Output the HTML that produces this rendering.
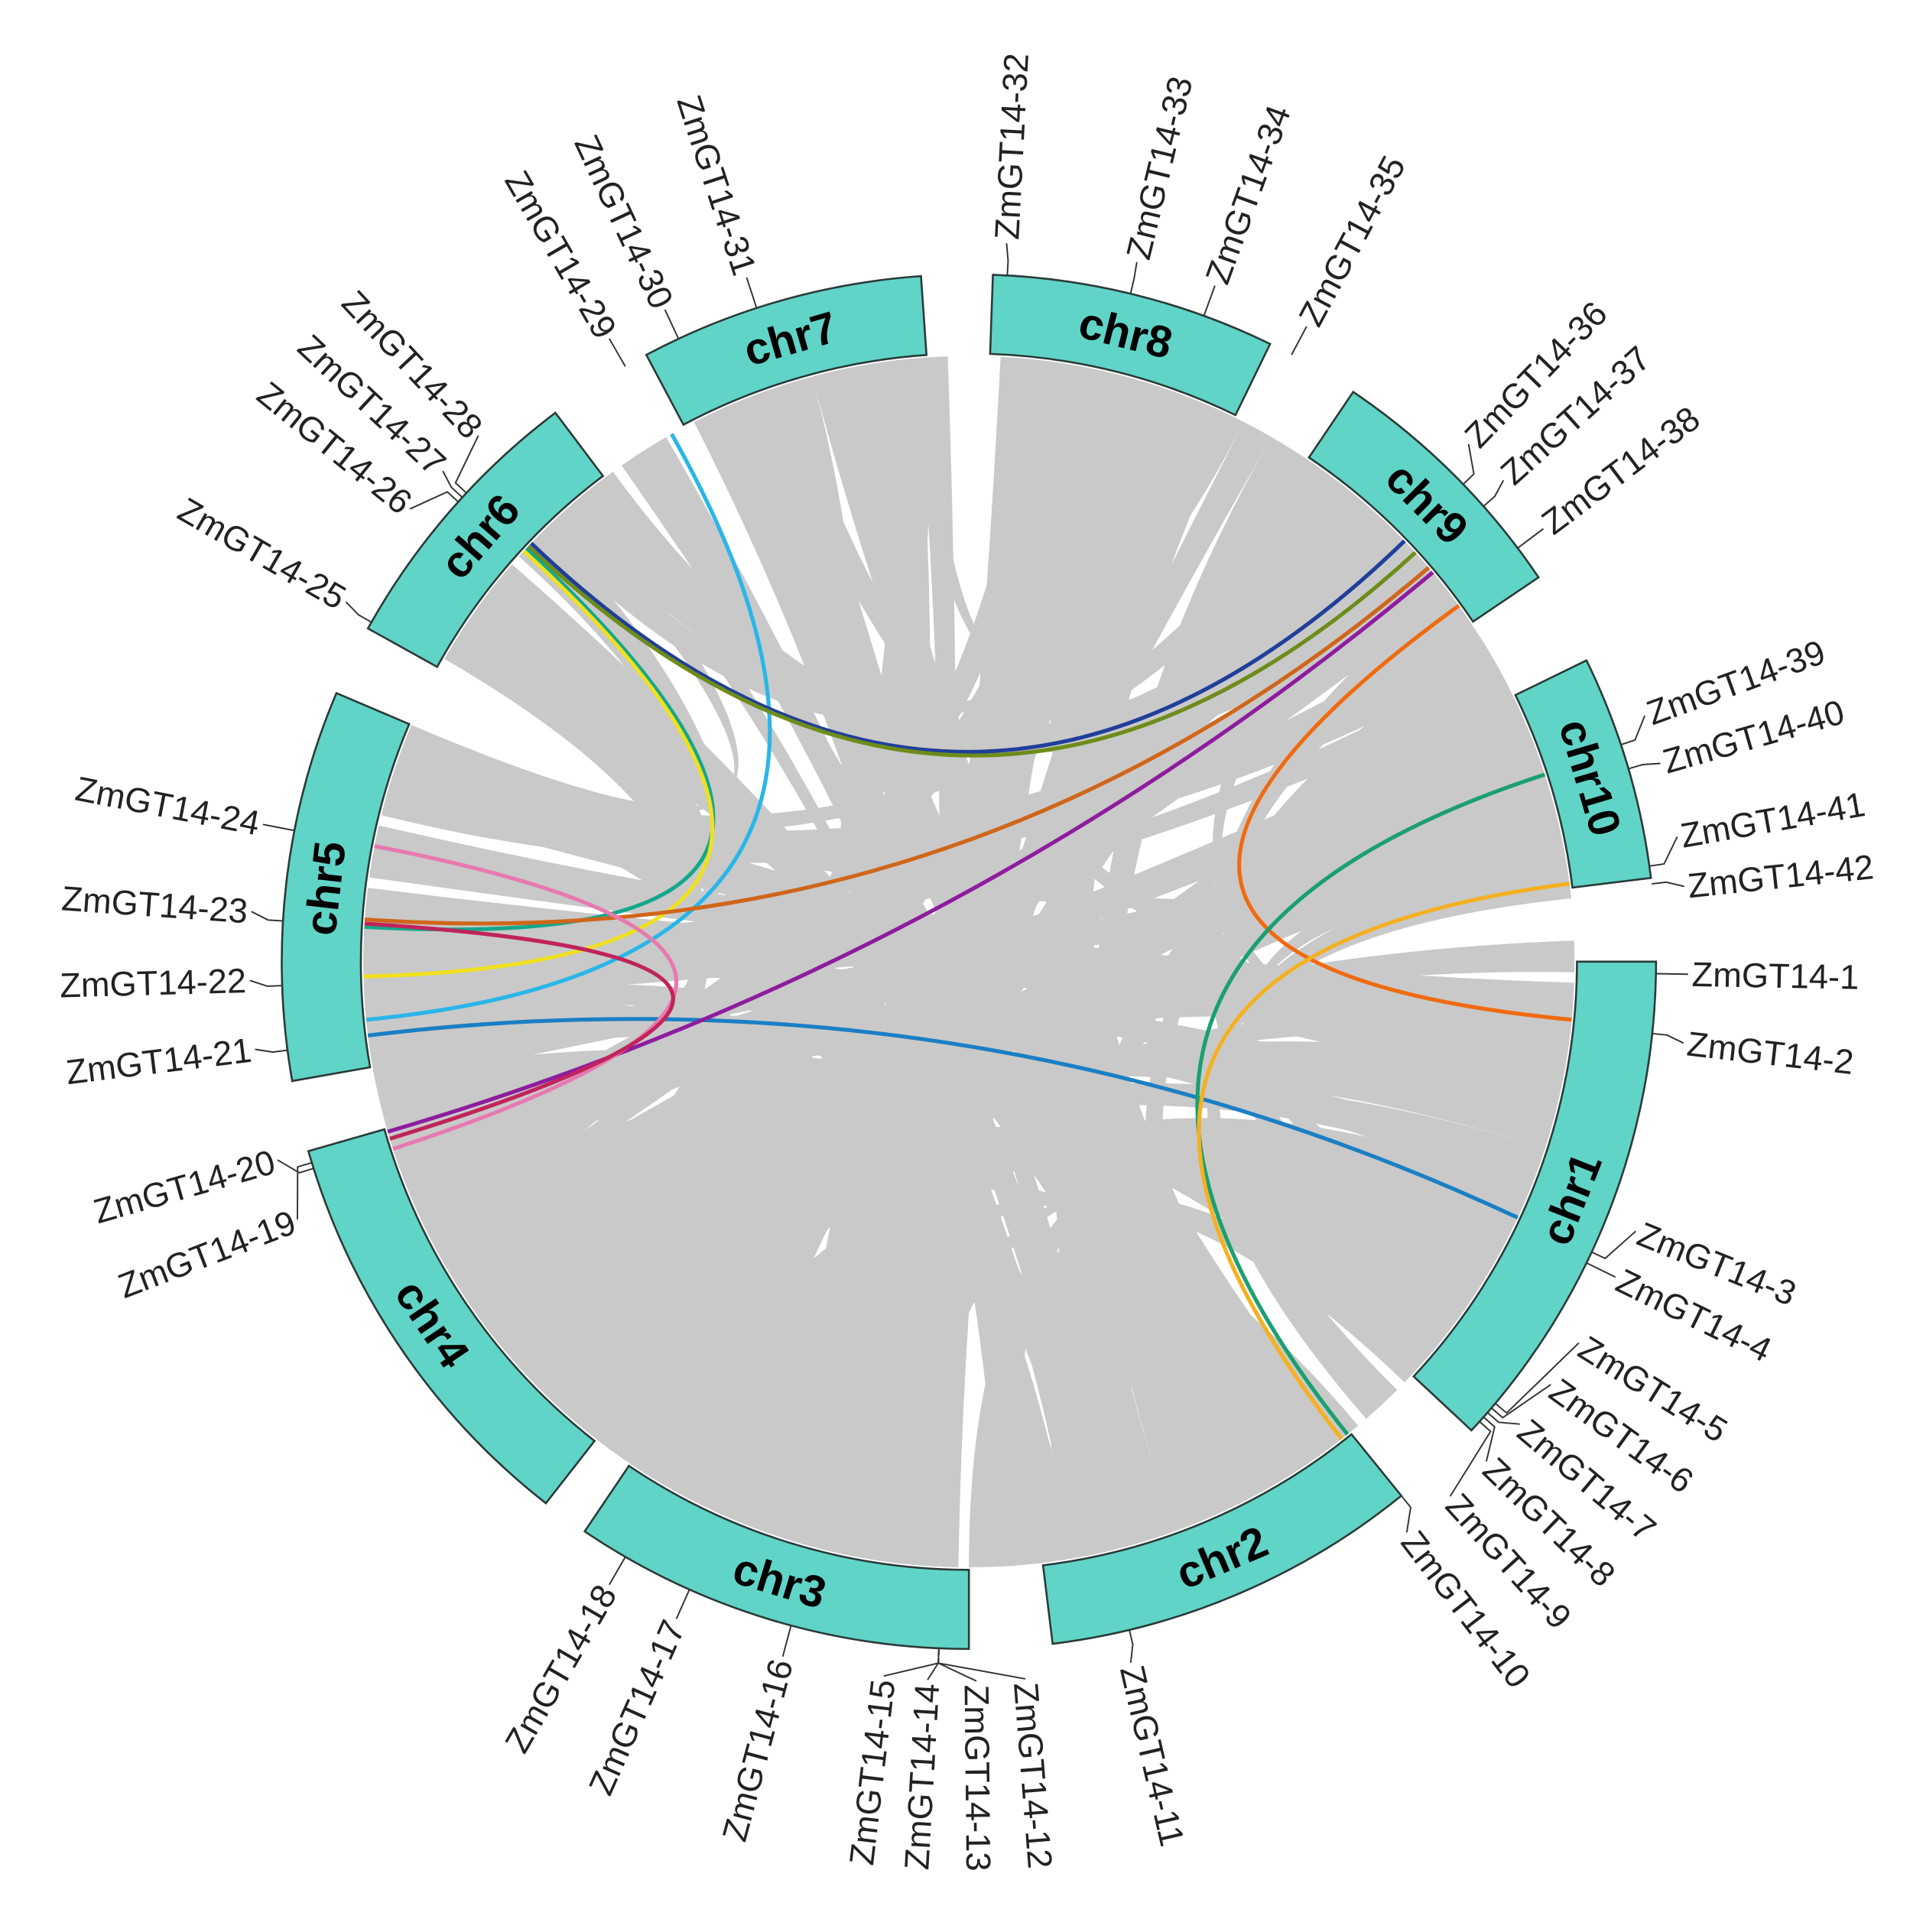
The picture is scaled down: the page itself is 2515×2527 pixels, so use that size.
<!DOCTYPE html>
<html><head><meta charset="utf-8"><style>
html,body{margin:0;padding:0;background:#fff}
svg{display:block}
</style></head><body>
<svg id="chart" width="2515" height="2527" viewBox="0 0 1556 1563" preserveAspectRatio="none" xmlns="http://www.w3.org/2000/svg">
<g id="gray"></g>
<g id="color"></g>
<g id="chrs"></g>
<g id="genes"></g>
</svg>
<script>
const chrNames = ["chr1","chr2","chr3","chr4","chr5","chr6","chr7","chr8","chr9","chr10"];
const chrStart = [90,141,180,218,260,299,332,2,34,64];
const chrEnd   = [133,173,214,254,293,323,356,26,56,83];
const geneAngles = [91,96,115,116,130,130.5,131,131.5,132,141,166.5,182.5,182.5,182.5,182.5,195,204,210,253,252.5,262.6,268,273.4,281,299.6,312,312.5,313,330,335,342,3.2,13.6,20,28,46,48.5,53,71.6,73.7,82,83.5];
const labelAngles = [91,96.5,112,116,122,126,130,134,138,142.5,167,175.5,179.4,183.3,186.8,195,204,210,249,254,263,268.5,274,281,300,309,313,317,330,335,342,3,13.5,20,28,44,48,53,70,74,80,84];
const grayA1 = [92,97,103,108,120,126,130,100,142,148,155,160,166,170,181,188,194,200,206,210,219,225,232,238,244,249,262,266,278,284,289,300,306,312,318,333,338,345,351,3,9,15,21,35,41,47,52,65,70,76,80,114,184,228,270,326,6,58,
 94,110,117,123,144,152,163,183,191,203,212,221,229,235,241,252,260,270,274,287,291,303,315,321,335,342,348,354,6,12,18,24,38,44,50,67,73,78,82];
const grayW1 = [5,6,5,4,6,5,4,3,5,6,5,6,5,4,6,5,6,5,5,4,5,6,5,6,5,4,4,4,5,5,4,5,5,4,5,5,6,5,5,5,6,5,5,5,5,4,4,5,5,4,4,5,4,4,4,4,4,4,
 3,3,3,3,3,3,3,3,3,3,2,3,3,3,3,2,3,3,3,3,2,3,3,2,3,3,3,2,3,3,3,2,3,3,3,3,3,3,2];
const grayA2 = [272,285,241,230,222,255,200,340,345,335,30,15,60,300,8,20,350,38,75,112,68,118,100,48,305,12,128,80,92,55,165,185,150,233,42,172,196,144,230,183,190,207,160,212,236,320,123,247,221,258,135,175,4,17,104,164,245,150,
 250,265,210,186,10,325,340,355,5,27,64,95,140,88,300,40,109,60,98,35,318,146,24,168,156,216,188,24,200,150,215,243,226,104,286,252,231,118,290];
const grayW2 = [5,6,6,5,6,4,4,3,5,6,5,6,5,4,6,6,5,5,5,4,5,6,5,5,5,4,4,4,4,5,4,5,5,4,5,5,6,5,5,5,6,5,5,5,5,4,4,5,5,4,4,5,4,4,4,4,4,4,
 3,3,3,3,3,3,3,3,3,3,2,3,3,3,3,2,3,3,3,3,2,3,3,2,3,3,3,2,3,3,3,2,3,3,3,3,3,3,2];
const colA = [330.6,263,313.7,313.3,313,312.7,49.4,50,281,273.6,54,72,82.6];
const colB = [264.5,115,46,47.5,273.3,268.6,274,253.7,252,253,95.5,141.3,142];
const colColors = ["#29b6e8","#1a7fc4","#1f3f9a","#6e8c1a","#14a88a","#f0e020","#d0661a","#8e1c9e","#e879b0","#c0245a","#f06a10","#1aa070","#f5b020"];

const cx=784, cy=778, RO=556, RI=492, RL=490;
const NS="http://www.w3.org/2000/svg";
function P(a,r){const t=a*Math.PI/180;return [cx+r*Math.sin(t), cy-r*Math.cos(t)];}
function f(p){return p[0].toFixed(2)+" "+p[1].toFixed(2);}
function mk(tag,parent){const e=document.createElementNS(NS,tag);parent.appendChild(e);return e;}

const gG=document.getElementById('gray');
for(let i=0;i<grayA1.length;i++){
  const a1=grayA1[i],b1=a1+grayW1[i],a2=grayA2[i],b2=a2+grayW2[i];
  const d="M"+f(P(a1,RL))+" A"+RL+" "+RL+" 0 0 1 "+f(P(b1,RL))+" Q"+cx+" "+cy+" "+f(P(a2,RL))+" A"+RL+" "+RL+" 0 0 1 "+f(P(b2,RL))+" Q"+cx+" "+cy+" "+f(P(a1,RL))+"Z";
  const p=mk('path',gG);
  
  
  p.setAttribute('d',d);p.setAttribute('fill','#c9c9c9');
}
const cG=document.getElementById('color');
for(let i=0;i<colA.length;i++){
  const p=mk('path',cG);
  
  
  p.setAttribute('d',"M"+f(P(colA[i],RL))+" Q"+cx+" "+cy+" "+f(P(colB[i],RL)));
  p.setAttribute('fill','none');p.setAttribute('stroke',colColors[i]);p.setAttribute('stroke-width','3.2');
}
const chG=document.getElementById('chrs');
for(let i=0;i<chrNames.length;i++){
  const s=chrStart[i],e=chrEnd[i];
  const d="M"+f(P(s,RO))+" A"+RO+" "+RO+" 0 0 1 "+f(P(e,RO))+" L"+f(P(e,RI))+" A"+RI+" "+RI+" 0 0 0 "+f(P(s,RI))+"Z";
  const p=mk('path',chG);
  
  
  p.setAttribute('d',d);p.setAttribute('fill','#60d4c7');p.setAttribute('stroke','#2a3a38');p.setAttribute('stroke-width','1.6');
  const m=(s+e)/2, q=P(m,(RO+RI)/2), rot=(m>90&&m<270)?m-180:m;
  const t=mk('text',chG);
  
  
  t.setAttribute('x',q[0]);t.setAttribute('y',q[1]);
  t.setAttribute('transform','rotate('+rot+' '+q[0]+' '+q[1]+')');
  t.setAttribute('text-anchor','middle');t.setAttribute('dominant-baseline','central');
  t.setAttribute('font-family','Liberation Sans, sans-serif');t.setAttribute('font-weight','bold');t.setAttribute('font-size','36');
  t.textContent=chrNames[i];
}
const gnG=document.getElementById('genes');
for(let i=0;i<geneAngles.length;i++){
  const ga=geneAngles[i], la=labelAngles[i];
  const l=mk('polyline',gnG);
  
  
  l.setAttribute('points',f(P(ga,RO))+" "+f(P(ga,RO+12))+" "+f(P(la,RO+26)));
  l.setAttribute('fill','none');l.setAttribute('stroke','#333');l.setAttribute('stroke-width','1.2');
  const q=P(la,RO+29);
  const right=la>0&&la<180;
  const t=mk('text',gnG);
  
  
  t.setAttribute('x',q[0]);t.setAttribute('y',q[1]);
  t.setAttribute('transform','rotate('+(right?la-90:la+90)+' '+q[0]+' '+q[1]+')');
  t.setAttribute('text-anchor',right?'start':'end');t.setAttribute('dominant-baseline','central');
  t.setAttribute('font-family','Liberation Sans, sans-serif');t.setAttribute('font-size','28');t.setAttribute('fill','#222');
  t.textContent='ZmGT14-'+(i+1);
}
</script>
</body></html>
